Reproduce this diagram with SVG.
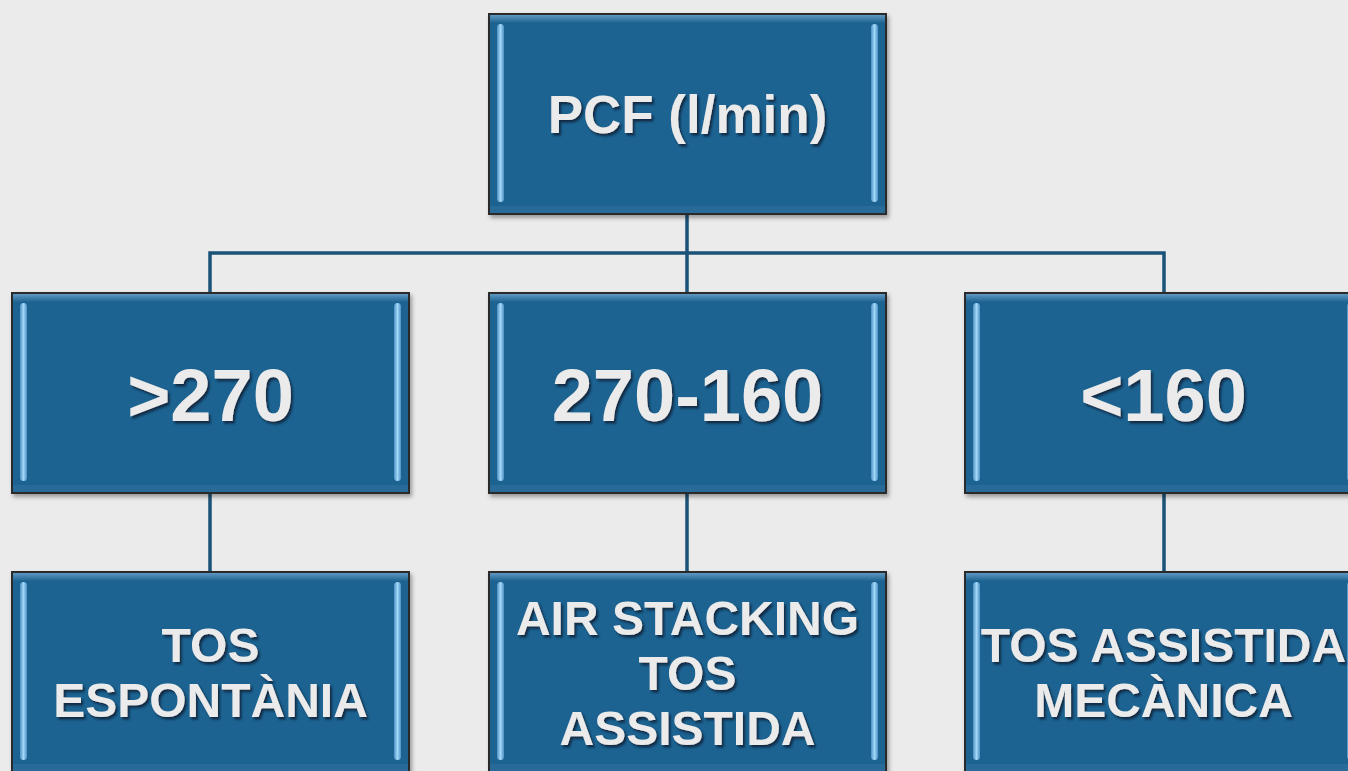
<svg xmlns="http://www.w3.org/2000/svg" width="1348" height="771" viewBox="0 0 1348 771">
  <defs>
    <filter id="boxShadow" x="-5%" y="-5%" width="115%" height="115%">
      <feDropShadow dx="2" dy="3" stdDeviation="2" flood-color="#000" flood-opacity="0.35"/>
    </filter>
    <filter id="textShadow" x="-5%" y="-10%" width="115%" height="130%">
      <feDropShadow dx="2" dy="2.5" stdDeviation="1.2" flood-color="#0a2235" flood-opacity="0.85"/>
    </filter>
    <linearGradient id="topGlow" x1="0" y1="0" x2="0" y2="1">
      <stop offset="0" stop-color="#6fa6cf"/>
      <stop offset="1" stop-color="#1f6391"/>
    </linearGradient>
    <linearGradient id="sideGlow" x1="0" y1="0" x2="1" y2="0">
      <stop offset="0" stop-color="#4d91c4"/>
      <stop offset="0.5" stop-color="#a3d7f7"/>
      <stop offset="1" stop-color="#4d91c4"/>
    </linearGradient>
    <!-- bevelled blue box, 397 x 200 -->
    <g id="box">
      <rect x="0" y="0" width="397" height="200" fill="#1f6391" stroke="#2b2b2b" stroke-width="2" filter="url(#boxShadow)"/>
      <rect x="1" y="1" width="395" height="8" fill="url(#topGlow)" opacity="0.8"/>
      <rect x="1" y="192" width="395" height="7" fill="#2d6f9c" opacity="0.7"/>
      <rect x="8" y="10" width="7" height="178" rx="3.5" fill="url(#sideGlow)"/>
      <rect x="382" y="10" width="7" height="178" rx="3.5" fill="url(#sideGlow)"/>
    </g>
  </defs>
  <style>
    .lbl { font-family: "Liberation Sans", Arial, sans-serif; font-weight: bold; fill: #ebebeb; text-anchor: middle; filter: url(#textShadow); }
    .big { font-size: 74px; }
    .top { font-size: 53px; }
    .small { font-size: 48px; }
    .conn { fill: none; stroke: #1b5277; stroke-width: 3.5; }
  </style>

  <rect width="1348" height="771" fill="#ebebeb"/>

  <g id="connectors">
    <path class="conn" d="M687 214 V253 M210 293 V253 H1164 V293 M687 253 V293"/>
    <path class="conn" d="M210 493 V572 M687 493 V572 M1164 493 V572"/>
  </g>

  <g id="node-pcf">
    <use href="#box" x="489" y="14"/>
    <text class="lbl top" x="687.5" y="133">PCF (l/min)</text>
  </g>

  <g id="node-gt270">
    <use href="#box" x="12" y="293"/>
    <text class="lbl big" x="210.5" y="421">&gt;270</text>
  </g>
  <g id="node-270-160">
    <use href="#box" x="489" y="293"/>
    <text class="lbl big" x="687.5" y="421">270-160</text>
  </g>
  <g id="node-lt160">
    <use href="#box" x="965" y="293"/>
    <text class="lbl big" x="1163.5" y="421">&lt;160</text>
  </g>

  <g id="node-tos-espontania">
    <use href="#box" x="12" y="572"/>
    <text class="lbl small" x="210.5" y="662">TOS</text>
    <text class="lbl small" x="210.5" y="717">ESPONTÀNIA</text>
  </g>
  <g id="node-air-stacking">
    <use href="#box" x="489" y="572"/>
    <text class="lbl small" x="687.5" y="635">AIR STACKING</text>
    <text class="lbl small" x="687.5" y="690">TOS</text>
    <text class="lbl small" x="687.5" y="745">ASSISTIDA</text>
  </g>
  <g id="node-tos-mecanica">
    <use href="#box" x="965" y="572"/>
    <text class="lbl small" x="1163.5" y="662">TOS ASSISTIDA</text>
    <text class="lbl small" x="1163.5" y="717">MECÀNICA</text>
  </g>
</svg>
